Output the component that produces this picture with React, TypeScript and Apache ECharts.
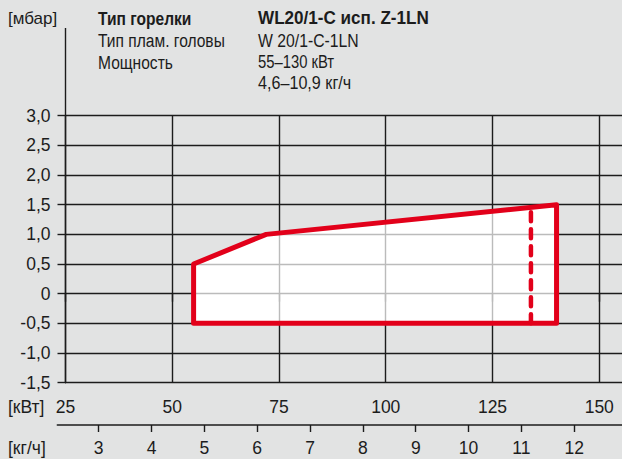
import React, { useEffect, useRef } from "react";
import * as echarts from "echarts";

// Working field of the burner: output [kW] vs. combustion-chamber pressure [mbar]
const fieldKw = [55, 55, 72, 140, 140];
const fieldMbar = [-0.5, 0.5, 1.0, 1.5, -0.5];

// Dashed limit line inside the field
const limitKw = [134, 134];
const limitMbar = [-0.5, 1.46];

// Axis ranges and tick values
const kwTicks = [25, 50, 75, 100, 125, 150];
const kgTicks = [3, 4, 5, 6, 7, 8, 9, 10, 11, 12];
const mbarRange = [-1.5, 3.0];
const kgRange = [2.217, 12.903];

// Header block
const headerLabels = ["Тип горелки", "Тип плам. головы", "Мощность"];
const headerValues = ["WL20/1-C исп. Z-1LN", "W 20/1-C-1LN", "55–130 кВт", "4,6–10,9 кг/ч"];

const RED = "#e2001a";
const INK = "#1c1c1c";
const AXIS_FONT = '"Liberation Sans", Arial, sans-serif';

export default function App() {
  const ref = useRef<HTMLDivElement>(null);

  useEffect(() => {
    if (!ref.current) return;
    const chart = echarts.init(ref.current, undefined, { renderer: "svg" });
    const fieldPoints = fieldKw.map((x, i) => [x, fieldMbar[i]]);

    const polygonItem = (fill: string, withStroke: boolean) => (params: any, api: any) => ({
      type: "polygon",
      shape: { points: fieldPoints.map((p) => api.coord(p)) },
      style: withStroke
        ? { fill, stroke: RED, lineWidth: 5, lineJoin: "round" }
        : { fill, stroke: null },
    });

    // Condensed header type: regular sans squeezed horizontally
    const headText = (text: string, x: number, y: number, bold: boolean, squeeze: number) => ({
      type: "text",
      x,
      y,
      scaleX: squeeze,
      style: {
        text,
        font: `${bold ? "bold " : ""}19px ${AXIS_FONT}`,
        fill: INK,
        textVerticalAlign: "middle",
      },
    });

    const rowY = [18, 40, 62, 83];
    const valueSqueeze = [0.9, 0.83, 0.78, 0.85];
    const graphics: any[] = [
      {
        type: "line",
        shape: { x1: 65.5, y1: 28, x2: 65.5, y2: 116 },
        style: { stroke: INK, lineWidth: 1.4 },
      },
      {
        type: "text",
        x: 8,
        y: rowY[0],
        style: { text: "[мбар]", font: `17px ${AXIS_FONT}`, fill: INK, textVerticalAlign: "middle" },
      },
      {
        type: "text",
        x: 8,
        y: 407,
        style: { text: "[кВт]", font: `17.5px ${AXIS_FONT}`, fill: INK, textVerticalAlign: "middle" },
      },
      {
        type: "text",
        x: 8,
        y: 448,
        style: { text: "[кг/ч]", font: `17.5px ${AXIS_FONT}`, fill: INK, textVerticalAlign: "middle" },
      },
    ];
    headerLabels.forEach((t, i) => graphics.push(headText(t, 98, rowY[i], i === 0, 0.82)));
    headerValues.forEach((t, i) => graphics.push(headText(t, 258, rowY[i], i === 0, valueSqueeze[i])));

    chart.setOption({
      animation: false,
      backgroundColor: "#e2e3e3",
      grid: [
        {
          left: 65.5,
          top: 115.7,
          height: 267,
          width: (156 - kwTicks[0]) * 4.27,
          show: false,
          outerBoundsMode: "none",
        },
        { left: 57.3, right: 0, top: 424, height: 1, show: false, outerBoundsMode: "none" },
      ],
      xAxis: [
        {
          type: "value",
          gridIndex: 0,
          min: kwTicks[0],
          max: 156,
          interval: 25,
          z: 2,
          axisLine: { show: false },
          axisTick: { show: true, length: 8, lineStyle: { color: INK, width: 1.4 } },
          splitLine: { show: true, lineStyle: { color: INK, width: 1.4 } },
          axisLabel: {
            showMaxLabel: false,
            margin: 15,
            color: INK,
            fontSize: 17.5,
            fontFamily: AXIS_FONT,
            formatter: (v: number) => (kwTicks.includes(v) ? String(v) : ""),
          },
        },
        {
          type: "value",
          gridIndex: 1,
          min: kgRange[0],
          max: kgRange[1],
          position: "bottom",
          axisLine: { show: true, lineStyle: { color: INK, width: 1.5 } },
          axisTick: { show: true, length: 7, customValues: kgTicks, lineStyle: { color: INK, width: 1.4 } },
          splitLine: { show: false },
          axisLabel: {
            customValues: kgTicks,
            margin: 14,
            color: INK,
            fontSize: 17.5,
            fontFamily: AXIS_FONT,
          },
        },
      ],
      yAxis: [
        {
          type: "value",
          gridIndex: 0,
          min: mbarRange[0],
          max: mbarRange[1],
          interval: 0.5,
          z: 2,
          axisLine: { show: true, lineStyle: { color: INK, width: 1.4 } },
          axisTick: { show: true, length: 8, lineStyle: { color: INK, width: 1.4 } },
          splitLine: { show: true, lineStyle: { color: INK, width: 1.4 } },
          axisLabel: {
            margin: 15,
            color: INK,
            fontSize: 17.5,
            fontFamily: AXIS_FONT,
            formatter: (v: number) => (v === 0 ? "0" : v.toFixed(1).replace(".", ",")),
          },
        },
        { type: "value", gridIndex: 1, show: false },
      ],
      graphic: graphics,
      series: [
        {
          type: "custom",
          z: 1,
          silent: true,
          xAxisIndex: 0,
          yAxisIndex: 0,
          data: [fieldPoints[0]],
          renderItem: polygonItem("#ffffff", false),
        },
        {
          type: "custom",
          z: 3,
          silent: true,
          xAxisIndex: 0,
          yAxisIndex: 0,
          data: [fieldPoints[0]],
          renderItem: polygonItem("rgba(255,255,255,0.7)", true),
        },
        {
          type: "line",
          z: 4,
          silent: true,
          xAxisIndex: 0,
          yAxisIndex: 0,
          showSymbol: false,
          data: limitKw.map((x, i) => [x, limitMbar[i]]),
          lineStyle: { color: RED, width: 4.5, type: [9, 8], cap: "round" },
        },
      ],
    });

    return () => chart.dispose();
  }, []);

  return (
    <div
      ref={ref}
      style={{ position: "fixed", left: 0, top: 0, width: 622, height: 459 }}
    />
  );
}
